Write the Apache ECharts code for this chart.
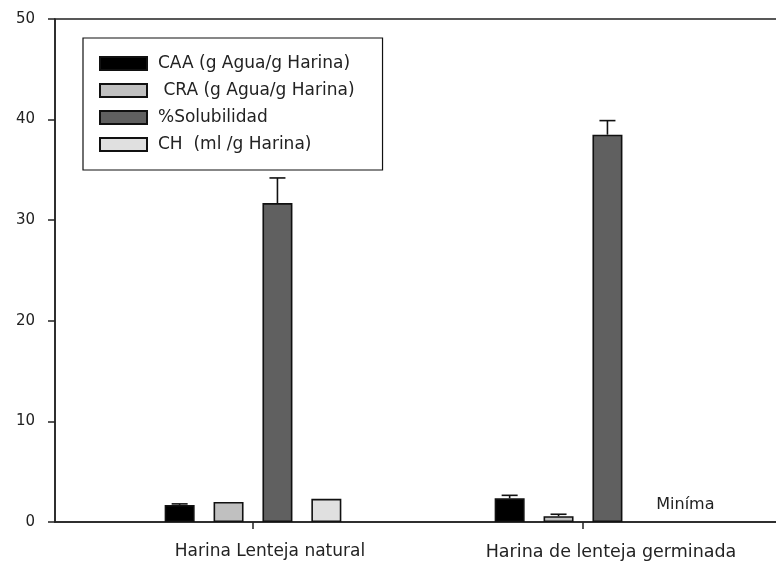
<!DOCTYPE html>
<html>
<head>
<meta charset="utf-8">
<script src="https://cdn.jsdelivr.net/npm/echarts@6/dist/echarts.min.js"></script>
<style>
  html, body {margin: 0; padding: 0; background: #fff;}
  #chart {width: 776px; height: 567px;}
</style>
</head>
<body>
<div id="chart"></div>
<script>
const categories = ['Harina Lenteja natural', 'Harina de lenteja germinada']
const seriesNames = ['CAA (g Agua/g Harina)', ' CRA (g Agua/g Harina)', '%Solubilidad', 'CH  (ml /g Harina)']
const caa = [1.7, 2.35]
const cra = [2.0, 0.57]
const solubilidad = [31.7, 38.5]
const ch = [2.3, 0]
const caaErr = [0.1, 0.3]
const craErr = [0, 0.2]
const solErr = [2.5, 1.4]
const chErr = [0, 0]
const chNote = 'Miníma'
const yTicks = [0, 10, 20, 30, 40, 50]

const colors = ['#000000', '#c0c0c0', '#606060', '#e0e0e0']
const font = 'DejaVu Sans'
const barWidth = 30
const barGap = 0.63
const barStep = barWidth * (1 + barGap)
// category positions on a numeric x axis (SigmaPlot-like offset range)
const catPos = categories.map((c, i) => i)
// labels sit a little right of their ticks in the original
const labelShift = [34, 56]

const values = [caa, cra, solubilidad, ch]
const errors = [caaErr, craErr, solErr, chErr]

const barSeries = seriesNames.map((name, k) => ({
  name,
  type: 'bar',
  barWidth,
  barGap: (barGap * 100) + '%',
  itemStyle: {color: colors[k], borderColor: '#111', borderWidth: 1.6},
  data: values[k].map((v, i) => {
    if (k === 3 && i === 1) {
      return {
        value: [catPos[i], v],
        itemStyle: {borderWidth: 0},
        label: {
          show: true, formatter: chNote, position: 'top', distance: 9, offset: [29, 0],
          fontFamily: font, fontSize: 16, color: '#222',
        },
      }
    }
    return [catPos[i], v]
  }),
}))

const errData = []
errors.forEach((errs, k) => {
  errs.forEach((e, i) => {
    if (e > 0) errData.push([catPos[i], values[k][i], e, k])
  })
})

const renderErr = (params, api) => {
  const cat = api.value(0)
  const val = api.value(1)
  const err = api.value(2)
  const k = api.value(3)
  const base = api.coord([cat, val])
  const top = api.coord([cat, val + err])
  const x = base[0] + (k - 1.5) * barStep
  const style = {stroke: '#111', lineWidth: 1.6}
  return {
    type: 'group',
    children: [
      {type: 'line', shape: {x1: x, y1: base[1], x2: x, y2: top[1]}, style},
      {type: 'line', shape: {x1: x - 8, y1: top[1], x2: x + 8, y2: top[1]}, style},
    ],
  }
}

const chart = echarts.init(document.getElementById('chart'))
chart.setOption({
  animation: false,
  backgroundColor: '#fff',
  grid: {
    left: 55, top: 19, bottom: 45, width: 726,
    outerBoundsMode: 'none',
    containLabel: false,
    show: true, borderColor: '#222', borderWidth: 1.5,
  },
  legend: {
    orient: 'vertical',
    left: 83, top: 38,
    padding: [17, 28, 17, 16],
    borderColor: '#111', borderWidth: 1.2,
    icon: 'rect',
    itemWidth: 47, itemHeight: 13, itemGap: 10,
    textStyle: {fontFamily: font, fontSize: 17, color: '#222', lineHeight: 13, padding: [0, 0, 0, 6]},
    data: seriesNames,
  },
  xAxis: {
    type: 'value',
    min: -0.6, max: 1.6,
    axisLine: {onZero: false, lineStyle: {color: '#222', width: 1.5}},
    axisTick: {show: true, customValues: catPos, length: 7, lineStyle: {color: '#222', width: 1.5}},
    axisLabel: {
      customValues: catPos,
      fontFamily: font, fontSize: 17, color: '#222', margin: 21,
      formatter: v => {
        const i = Math.round(v)
        return categories[i] ? `{c${i}|${categories[i]}}` : ''
      },
      rich: {
        c0: {fontFamily: font, fontSize: 17, color: '#222', padding: [0, 0, 0, labelShift[0]]},
        c1: {fontFamily: font, fontSize: 17.5, color: '#222', padding: [0, 0, 0, labelShift[1]]},
      },
    },
    splitLine: {show: false},
  },
  yAxis: {
    type: 'value',
    min: 0, max: 50, interval: 10,
    axisLine: {show: true, onZero: false, lineStyle: {color: '#222', width: 1.5}},
    axisTick: {show: true, length: 7, lineStyle: {color: '#222', width: 1.5}},
    axisLabel: {
      fontFamily: font, fontSize: 15, color: '#222', margin: 20,
      formatter: v => (yTicks.includes(v) ? String(v) : ''),
    },
    splitLine: {show: false},
  },
  series: [
    ...barSeries,
    {
      type: 'custom',
      renderItem: renderErr,
      data: errData,
      z: 5,
      silent: true,
    },
  ],
})
</script>
</body>
</html>
